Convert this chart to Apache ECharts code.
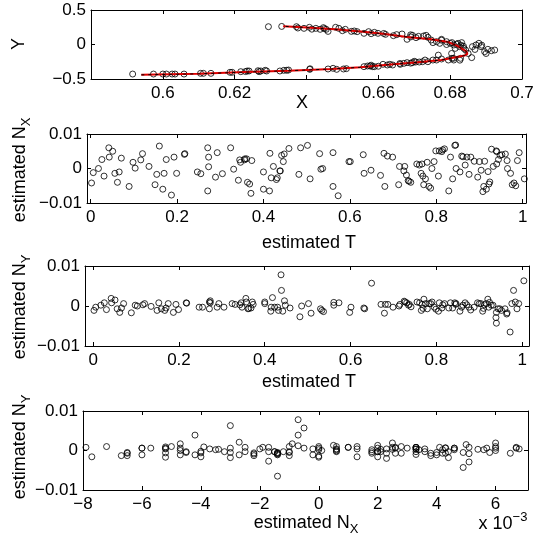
<!DOCTYPE html>
<html><head><meta charset="utf-8">
<script src="https://cdn.jsdelivr.net/npm/echarts@6/dist/echarts.min.js"></script>
<style>html,body{margin:0;padding:0;background:#fff}#c{width:544px;height:538px}</style>
</head><body><div id="c"></div>
<script>
// ---- Panel 1: observed (X, Y) points and fitted curve ----
const X = [0.6294,0.6331,0.6372,0.6376,0.6393,0.6408,0.6415,0.6426,0.6438,0.6447,0.6455,0.6460,0.6481,0.6490,0.6508,0.6533,0.6541,0.6560,0.6573,0.6580,
0.6589,0.6599,0.6620,0.6642,0.6651,0.6666,0.6680,0.6695,0.6705,0.6726,0.6733,0.6738,0.6747,0.6752,0.6762,0.6771,0.6776,0.6790,0.6800,0.6805,
0.6810,0.6814,0.6822,0.6826,0.6832,0.6838,0.6843,0.6862,0.6872,0.6880,0.6886,0.6896,0.6905,0.6915,0.6924,0.6869,0.6888,0.6900,0.6850,0.6860,
0.6837,0.6804,0.6809,0.6827,0.6767,0.6776,0.6500,0.6615,0.6690,0.6712,0.6790,0.6818,0.6830,0.6690,0.6450,0.6525,
0.5916,0.5974,0.6000,0.6010,0.6026,0.6034,0.6059,0.6105,0.6113,0.6134,0.6187,0.6193,0.6217,0.6235,0.6240,0.6268,0.6273,0.6285,0.6289,0.6326,
0.6337,0.6345,0.6409,0.6460,0.6474,0.6484,0.6503,0.6511,0.6560,0.6570,0.6577,0.6584,0.6589,0.6613,0.6625,0.6632,0.6640,0.6661,0.6671,0.6680,
0.6695,0.6704,0.6714,0.6723,0.6730,0.6738,0.6752,0.6762,0.6776,0.6795,0.6805,0.6810,0.6829,0.6230,0.6265,0.6350,0.6410,0.6580,0.6600,0.6690,
0.6700,0.6660];
const Y = [0.258,0.262,0.258,0.239,0.234,0.249,0.222,0.234,0.220,0.244,0.220,0.190,0.249,0.234,0.220,0.196,0.186,0.162,0.186,0.157,
0.176,0.162,0.147,0.128,0.143,0.152,0.075,0.133,0.099,0.123,0.133,0.104,0.065,0.027,0.041,0.017,0.075,0.041,0.017,0.027,
-0.007,-0.056,0.017,-0.031,0.027,-0.056,-0.080,-0.031,-0.007,0.017,-0.031,-0.104,-0.070,-0.090,-0.080,-0.072,-0.010,-0.130,-0.130,-0.190,
-0.025,-0.130,-0.200,-0.227,-0.154,0.062,0.200,0.160,0.110,0.118,0.000,0.004,-0.010,0.140,0.230,0.190,
-0.428,-0.428,-0.428,-0.428,-0.428,-0.428,-0.428,-0.418,-0.418,-0.418,-0.403,-0.403,-0.394,-0.384,-0.384,-0.394,-0.384,-0.374,-0.384,-0.384,
-0.374,-0.374,-0.360,-0.355,-0.345,-0.360,-0.355,-0.350,-0.321,-0.312,-0.312,-0.321,-0.321,-0.287,-0.297,-0.287,-0.297,-0.287,-0.273,-0.263,
-0.263,-0.254,-0.254,-0.249,-0.225,-0.249,-0.225,-0.225,-0.210,-0.225,-0.200,-0.225,-0.200,-0.392,-0.380,-0.370,-0.352,-0.300,-0.315,-0.270,
-0.244,-0.275];
const curveX = [0.594,0.610,0.623,0.635,0.647,0.655,0.661,0.671,0.6776,0.684,0.6848,0.6845,0.682,0.6795,0.6747,0.668,0.6613,0.655,0.648,0.640,0.6335];
const curveY = [-0.44,-0.425,-0.40,-0.38,-0.355,-0.33,-0.30,-0.258,-0.225,-0.16,-0.135,-0.10,-0.02,0.035,0.075,0.11,0.155,0.19,0.22,0.245,0.265];

// ---- Panels 2-4: estimated T, N_X, N_Y ----
const T = [0.002,0.006,0.018,0.026,0.031,0.042,0.043,0.051,0.056,0.062,
0.066,0.071,0.089,0.098,0.103,0.116,0.120,0.135,0.149,0.153,
0.159,0.167,0.170,0.175,0.187,0.193,0.199,0.217,0.218,0.247,
0.255,0.271,0.273,0.271,0.273,0.289,0.293,0.305,0.324,0.331,
0.342,0.345,0.347,0.356,0.357,0.361,0.363,0.368,0.371,0.373,
0.400,0.400,0.414,0.415,0.418,0.423,0.430,0.432,0.438,0.439,
0.442,0.446,0.448,0.459,0.482,0.486,0.502,0.508,0.530,0.533,
0.537,0.561,0.561,0.573,0.598,0.601,0.631,0.633,0.649,0.671,
0.679,0.681,0.687,0.699,0.713,0.715,0.725,0.727,0.731,0.735,
0.737,0.741,0.755,0.761,0.765,0.767,0.769,0.771,0.775,0.779,
0.783,0.787,0.790,0.795,0.799,0.805,0.807,0.813,0.815,0.819,
0.829,0.833,0.838,0.843,0.845,0.846,0.855,0.859,0.862,0.867,
0.871,0.876,0.880,0.888,0.896,0.900,0.904,0.908,0.910,0.912,
0.916,0.920,0.922,0.924,0.928,0.932,0.939,0.940,0.940,0.944,
0.948,0.952,0.960,0.964,0.965,0.972,0.976,0.980,0.984,0.988,
0.992,1.004];
const NX = [-0.0042,-0.0012,0.0000,0.0026,-0.0022,0.0060,0.0033,0.0050,-0.0014,-0.0040,
-0.0010,0.0030,-0.0052,0.0018,0.0001,0.0025,0.0043,0.0006,-0.0047,-0.0017,
0.0065,-0.0060,-0.0014,0.0026,-0.0077,0.0033,-0.0014,0.0041,0.0043,-0.0010,
-0.0015,-0.0065,0.0005,0.0060,0.0033,-0.0025,0.0046,-0.0015,0.0060,-0.0002,
-0.0034,0.0025,0.0018,0.0025,0.0028,0.0028,-0.0040,-0.0045,-0.0072,0.0023,
-0.0060,-0.0010,-0.0065,0.0044,-0.0027,0.0006,-0.0032,-0.0027,-0.0007,-0.0007,
0.0038,0.0020,0.0042,0.0058,-0.0017,0.0060,0.0067,-0.0030,0.0043,-0.0002,
0.0000,-0.0052,0.0046,-0.0079,0.0020,0.0020,0.0040,-0.0014,-0.0005,-0.0020,
0.0044,-0.0052,0.0036,0.0033,-0.0047,0.0006,-0.0007,0.0006,-0.0019,-0.0035,
-0.0037,-0.0040,0.0013,0.0010,-0.0014,0.0013,-0.0022,-0.0047,-0.0030,0.0018,
-0.0052,-0.0057,0.0000,0.0020,0.0051,-0.0022,0.0051,0.0049,0.0054,0.0057,
-0.0065,0.0033,-0.0030,0.0067,0.0068,0.0000,-0.0010,0.0036,0.0034,0.0010,
0.0033,-0.0017,0.0033,0.0021,-0.0025,0.0020,-0.0005,-0.0067,-0.0052,0.0021,
-0.0060,-0.0009,-0.0045,-0.0039,0.0056,0.0006,0.0051,0.0049,0.0013,0.0026,
0.0038,0.0040,0.0042,0.0023,0.0000,-0.0014,-0.0047,-0.0042,-0.0050,0.0023,
0.0046,-0.0030];
const NY = [-0.0011,-0.0003,0.0002,0.0008,-0.0009,0.0019,0.0008,0.0015,-0.0007,-0.0016,
-0.0005,0.0006,-0.0017,0.0002,0.0000,0.0003,0.0006,-0.0001,-0.0011,0.0008,
-0.0007,-0.0011,-0.0005,0.0006,-0.0016,0.0004,-0.0009,0.0008,0.0007,-0.0003,
-0.0003,-0.0007,0.0013,0.0010,0.0008,-0.0003,0.0006,-0.0003,0.0006,0.0004,
0.0003,0.0008,-0.0003,0.0019,0.0010,-0.0007,-0.0006,-0.0005,0.0010,0.0004,
0.0006,0.0010,-0.0013,-0.0003,0.0021,-0.0003,-0.0003,-0.0011,0.0078,0.0039,
-0.0013,0.0013,0.0002,-0.0005,-0.0027,0.0000,0.0006,-0.0018,-0.0007,-0.0011,
-0.0014,0.0009,0.0002,0.0008,-0.0016,-0.0003,-0.0005,-0.0007,0.0057,0.0004,
-0.0018,0.0004,0.0004,-0.0003,0.0000,0.0004,0.0012,0.0010,0.0008,0.0002,
0.0004,-0.0002,0.0010,0.0008,-0.0011,0.0004,-0.0006,0.0017,0.0006,-0.0007,
0.0006,0.0006,0.0010,-0.0003,-0.0008,-0.0013,0.0008,-0.0005,0.0003,0.0006,
-0.0005,0.0008,-0.0005,0.0008,0.0004,0.0006,-0.0013,-0.0003,0.0002,0.0008,
0.0003,-0.0003,-0.0010,-0.0003,0.0008,0.0006,0.0006,-0.0013,-0.0006,0.0003,
0.0006,0.0017,-0.0003,0.0009,0.0002,0.0002,-0.0029,-0.0043,-0.0016,-0.0007,
-0.0007,-0.0011,-0.0007,-0.0020,-0.0017,-0.0065,0.0006,0.0039,0.0010,-0.0007,
0.0006,0.0063];

// ---- tick values ----
const ticks1X = [0.6,0.62,0.64,0.66,0.68,0.7];
const labels1X = [0.6,0.62,0.66,0.68,0.7];
const ticks1Y = [-0.5,0,0.5];
const ticksT = [0,0.2,0.4,0.6,0.8,1];
const ticksN = [-0.01,0,0.01];
const ticks4X = [-0.008,-0.006,-0.004,-0.002,0,0.002,0.004,0.006];

const FONT = 'Liberation Sans, Arial, Helvetica, sans-serif';
const MINUS = '\u2212';
function num(v, d){ if (Math.abs(v) < 1e-12) return '0'; const s = String(+Math.abs(v).toFixed(d)); return (v < 0 ? MINUS : '') + s; }

const grids = [
  {left:91, top:10, width:431, height:69},
  {left:87, top:134, width:439, height:69},
  {left:85, top:266, width:444, height:80},
  {left:83, top:411, width:445, height:79}
];
const xr = [[0.58,0.7],[-0.0085,1.0078],[-0.019,1.016],[-0.008,0.0071]];
const yr = [[-0.5,0.5],[-0.01,0.01],[-0.01,0.01],[-0.01,0.01]];
const xt = [ticks1X, ticksT, ticksT, ticks4X];
const xl = [labels1X, ticksT, ticksT, ticks4X];
const yt = [ticks1Y, ticksN, ticksN, ticksN];
const xf = [v=>num(v,2), v=>num(v,1), v=>num(v,1), v=>num(Math.round(v*1000),0)];
const yf = [v=>num(v,1), v=>num(v,2), v=>num(v,2), v=>num(v,2)];

const lineStyle = {color:'#000', width:1};
const tickStyle = {show:true, inside:true, length:4, lineStyle:{color:'#000', width:1}};
const xAxis = [], yAxis = [];
for (let i = 0; i < 4; i++) {
  ['bottom','top'].forEach((pos, k) => {
    xAxis.push({type:'value', gridIndex:i, position:pos, min:xr[i][0], max:xr[i][1],
      axisLine:{show:true, onZero:false, lineStyle}, splitLine:{show:false},
      axisTick:Object.assign({customValues:xt[i]}, tickStyle),
      axisLabel:{show:k===0, customValues:xl[i], formatter:xf[i], color:'#000', fontSize:17, fontFamily:FONT, margin:6}});
  });
  ['left','right'].forEach((pos, k) => {
    yAxis.push({type:'value', gridIndex:i, position:pos, min:yr[i][0], max:yr[i][1],
      axisLine:{show:true, onZero:false, lineStyle}, splitLine:{show:false},
      axisTick:Object.assign({customValues:yt[i]}, tickStyle),
      axisLabel:{show:k===0, customValues:yt[i], formatter:yf[i], color:'#000', fontSize:17, fontFamily:FONT, margin:5}});
  });
}

const circ = {type:'scatter', symbol:'circle', symbolSize:6, silent:true,
  itemStyle:{color:'rgba(0,0,0,0)', borderColor:'#000', borderWidth:1}};
const series = [
  Object.assign({}, circ, {xAxisIndex:0, yAxisIndex:0, data:X.map((x,i)=>[x,Y[i]]), z:3}),
  {type:'line', xAxisIndex:0, yAxisIndex:0, data:curveX.map((x,i)=>[x,curveY[i]]), showSymbol:false, symbol:'none',
   lineStyle:{color:'#e00000', width:2}, z:4, animation:false},
  {type:'line', xAxisIndex:0, yAxisIndex:0, data:curveX.map((x,i)=>[x,curveY[i]]), showSymbol:false, symbol:'none',
   lineStyle:{color:'#000', width:1, type:[3,4]}, z:5, animation:false},
  Object.assign({}, circ, {xAxisIndex:2, yAxisIndex:2, data:T.map((t,i)=>[t,NX[i]])}),
  Object.assign({}, circ, {xAxisIndex:4, yAxisIndex:4, data:T.map((t,i)=>[t,NY[i]])}),
  Object.assign({}, circ, {xAxisIndex:6, yAxisIndex:6, data:NX.map((n,i)=>[n,NY[i]])})
];

const rich = {
  a:{fontSize:18, fontFamily:FONT, color:'#000', lineHeight:26, verticalAlign:'middle'},
  b:{fontSize:13, fontFamily:FONT, color:'#000', lineHeight:12, verticalAlign:'bottom'},
  c:{fontSize:13, fontFamily:FONT, color:'#000', lineHeight:12, verticalAlign:'top'}
};
function label(text, x, y, rot) {
  return {type:'text', x:x, y:y, rotation:rot||0, z:100,
    style:{text:text, rich:rich, fill:'#000', font:'18px '+FONT, fontSize:18, fontFamily:FONT,
      align:'center', verticalAlign:'middle', textAlign:'center', textVerticalAlign:'middle'}};
}
const R = Math.PI/2;
const graphic = [
  label('{a|Y}', 19, 44, R),
  label('{a|X}', 302, 103),
  label('{a|estimated N}{b|X}', 20, 170, R),
  label('{a|estimated T}', 309, 243),
  label('{a|estimated N}{b|Y}', 20, 307, R),
  label('{a|estimated T}', 309, 382),
  label('{a|estimated N}{b|Y}', 20, 447, R),
  label('{a|estimated N}{b|X}', 306, 523),
  label('{a|x 10}{c|\u22123}', 503, 524)
];

const chart = echarts.init(document.getElementById('c'), null, {renderer:'canvas'});
chart.setOption({animation:false, backgroundColor:'#fff', grid:grids, xAxis, yAxis, series, graphic});
</script></body></html>
